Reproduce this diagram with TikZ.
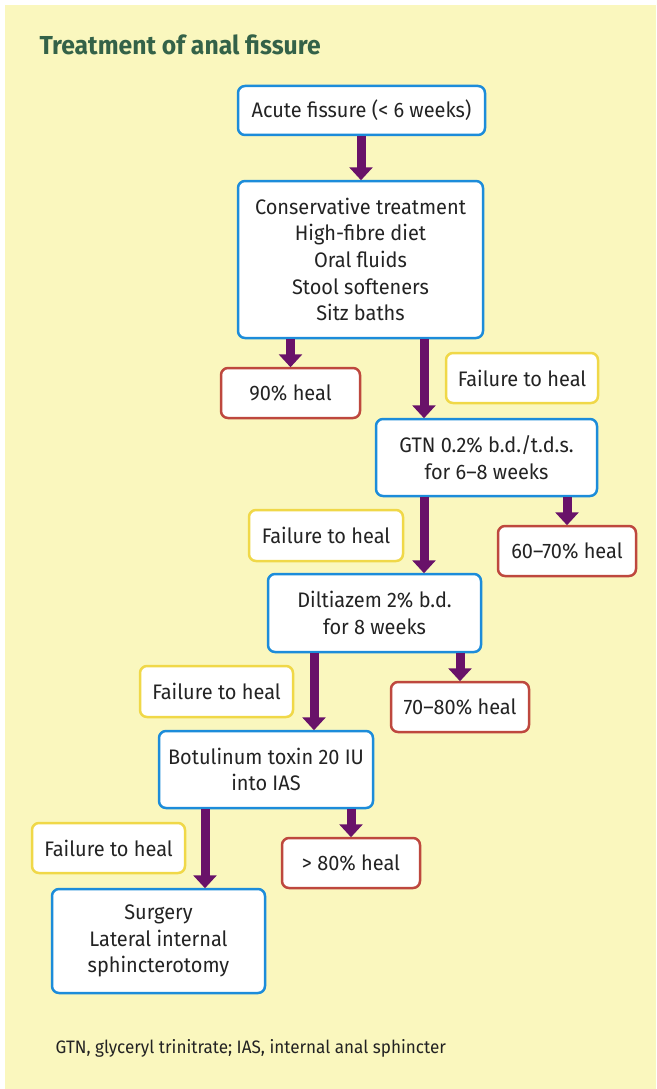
\documentclass[tikz,border=0pt]{standalone}
\usepackage{fontspec}
\setmainfont{Fira Sans}[FakeStretch=0.95]
\usetikzlibrary{arrows.meta,calc}
\definecolor{bg}{RGB}{250,247,190}
\definecolor{bluebd}{RGB}{28,140,218}
\definecolor{redbd}{RGB}{190,72,62}
\definecolor{yelbd}{RGB}{240,216,72}
\definecolor{purp}{RGB}{105,18,105}
\definecolor{ttl}{RGB}{52,98,72}
\definecolor{txt}{RGB}{35,35,35}
\tikzset{
  box/.style={draw, line width=2.5pt, rounded corners=7pt, fill=white, align=center,
    inner sep=0pt, text=txt, font=\fontsize{21}{26.7}\selectfont},
  bluebox/.style={box, draw=bluebd},
  redbox/.style={box, draw=redbd},
  yelbox/.style={box, draw=yelbd},
  flow/.style={draw=purp, line width=9pt,
    -{Triangle[width=23pt,length=13pt]}, shorten >=-0.5pt}
}
\begin{document}
\begin{tikzpicture}[x=1pt,y=-1pt]
\useasboundingbox (0,0) rectangle (656,1089);
\fill[white] (0,0) rectangle (656,1089);
\fill[bg] (5,5) rectangle (656,1089);
\node[anchor=base west, text=ttl, font=\fontsize{26}{30}\bfseries\selectfont] (title) at (36,55) {Treatment of anal fissure};

\node[bluebox, minimum width=247pt, minimum height=49pt] (acute) at (361.5,110.5) {Acute fissure (< 6 weeks)};
\node[bluebox, minimum width=245pt, minimum height=157pt] (cons) at (360.5,259.5) {Conservative treatment\\High-fibre diet\\Oral fluids\\Stool softeners\\Sitz baths};
\node[redbox, minimum width=139pt, minimum height=50pt] (h90) at (290.5,393) {90\% heal};
\node[yelbox, minimum width=152pt, minimum height=50pt] (f1) at (522,378) {Failure to heal};
\node[bluebox, minimum width=221pt, minimum height=77pt] (gtn) at (486.5,457.5) {GTN 0.2\% b.d./t.d.s.\\for 6–8 weeks};
\node[yelbox, minimum width=154pt, minimum height=51pt] (f2) at (326,535.5) {Failure to heal};
\node[redbox, minimum width=138pt, minimum height=50pt] (h60) at (567,551) {60–70\% heal};
\node[bluebox, minimum width=213pt, minimum height=78pt] (dil) at (374.5,613) {Diltiazem 2\% b.d.\\for 8 weeks};
\node[yelbox, minimum width=153pt, minimum height=51pt] (f3) at (216.5,691.5) {Failure to heal};
\node[redbox, minimum width=138pt, minimum height=50pt] (h70) at (460,707) {70–80\% heal};
\node[bluebox, minimum width=214pt, minimum height=77pt] (bot) at (266,769.5) {Botulinum toxin 20 IU\\into IAS};
\node[yelbox, minimum width=153pt, minimum height=50pt] (f4) at (108.5,848) {Failure to heal};
\node[redbox, minimum width=138pt, minimum height=50pt] (h80) at (351,863) {> 80\% heal};
\node[bluebox, minimum width=213pt, minimum height=104pt] (surg) at (158.5,941) {Surgery\\Lateral internal\\sphincterotomy};

\node[anchor=base west, text=txt, font=\fontsize{18}{22}\selectfont] (note) at (52,1053) {GTN, glyceryl trinitrate; IAS, internal anal sphincter};

\draw[flow] (acute.south -| 361,0) -- (cons.north -| 361,0);
\draw[flow] (cons.south -| h90.north) -- (h90.north);
\draw[flow] (cons.south -| 424,0) -- (gtn.north -| 424,0);
\draw[flow] (gtn.south -| 424,0) -- (dil.north -| 424,0);
\draw[flow] (gtn.south -| h60.north) -- (h60.north);
\draw[flow] (dil.south -| 314,0) -- (bot.north -| 314,0);
\draw[flow] (dil.south -| h70.north) -- (h70.north);
\draw[flow] (bot.south -| 205,0) -- (surg.north -| 205,0);
\draw[flow] (bot.south -| h80.north) -- (h80.north);
\end{tikzpicture}
\end{document}
